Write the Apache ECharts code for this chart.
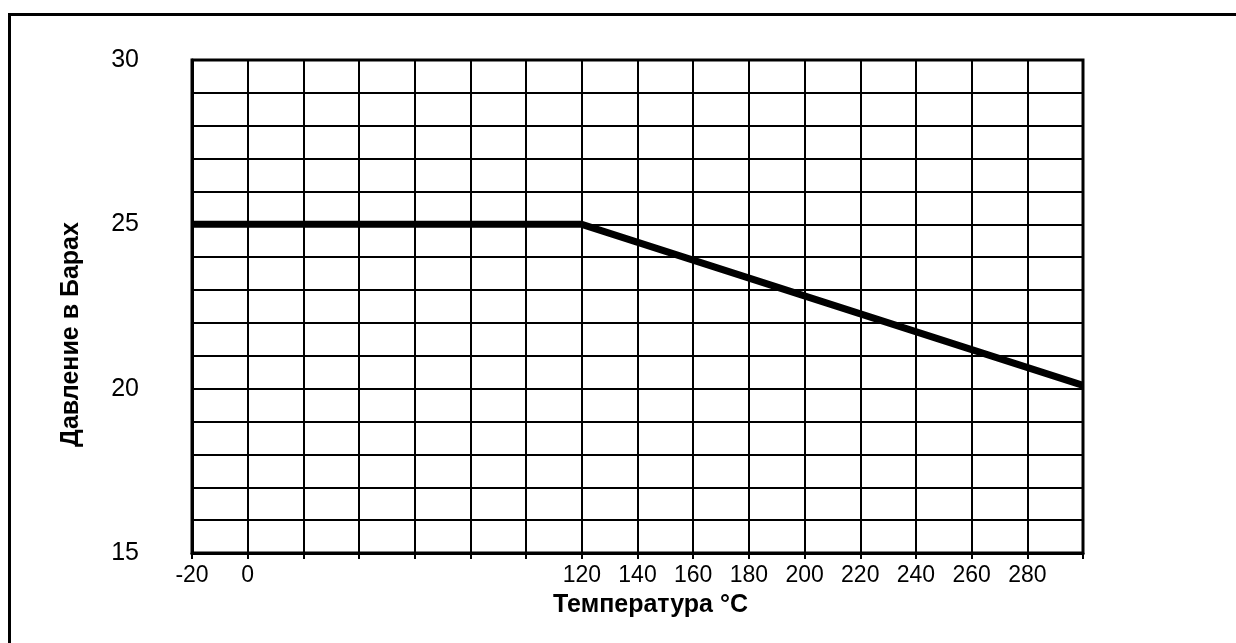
<!DOCTYPE html>
<html>
<head>
<meta charset="utf-8">
<script src="https://cdn.jsdelivr.net/npm/echarts@6/dist/echarts.min.js"></script>
<style>
html,body{margin:0;padding:0;background:#fff;}
#chart{width:1236px;height:643px;}
</style>
</head>
<body>
<div id="chart"></div>
<script>
// Data
const temperatures = [-20, 120, 300];
const pressures = [25, 25, 20.1];
const xTickLabels = [-20, 0, 120, 140, 160, 180, 200, 220, 240, 260, 280];
const yTickLabels = [15, 20, 25, 30];
const xTitle = 'Температура °C';
const yTitle = 'Давление в Барах';

const FONT = '"Liberation Sans", Arial, sans-serif';
const chart = echarts.init(document.getElementById('chart'), null, {renderer: 'canvas'});

chart.setOption({
  backgroundColor: '#fff',
  animation: false,
  graphic: [{
    type: 'polyline',
    shape: {points: [[9.5, 643], [9.5, 14.5], [1236, 14.5]]},
    style: {stroke: '#000', lineWidth: 3, fill: null}
  }],
  grid: {
    left: 192, top: 60, right: 153, bottom: 90,
    show: true, borderColor: '#000', borderWidth: 3
  },
  xAxis: {
    type: 'value',
    min: -20, max: 300, interval: 20,
    name: xTitle,
    nameLocation: 'middle',
    nameGap: 40,
    nameTextStyle: {fontFamily: FONT, fontSize: 25, fontWeight: 'bold', color: '#000', padding: [0, 0, 0, 26]},
    axisLine: {show: true, onZero: false, lineStyle: {color: '#000', width: 3}},
    axisTick: {show: true, length: 6, lineStyle: {color: '#000', width: 2}},
    axisLabel: {
      fontFamily: FONT, fontSize: 23, color: '#000', margin: 11,
      formatter: v => xTickLabels.includes(v) ? String(v) : ''
    },
    splitLine: {show: true, lineStyle: {color: '#000', width: 2}}
  },
  yAxis: {
    type: 'value',
    min: 15, max: 30, interval: 1,
    name: yTitle,
    nameLocation: 'middle',
    nameGap: 108,
    nameRotate: 90,
    nameTextStyle: {fontFamily: FONT, fontSize: 25, fontWeight: 'bold', color: '#000', padding: [0, 56, 0, 0]},
    axisLine: {show: true, onZero: false, lineStyle: {color: '#000', width: 3}},
    axisTick: {show: false},
    axisLabel: {
      fontFamily: FONT, fontSize: 25, color: '#000', margin: 53,
      formatter: v => yTickLabels.includes(v) ? String(v) : ''
    },
    splitLine: {show: true, lineStyle: {color: '#000', width: 2}}
  },
  series: [{
    type: 'line',
    data: temperatures.map((t, i) => [t, pressures[i]]),
    showSymbol: false,
    lineStyle: {color: '#000', width: 7},
    z: 5
  }]
});
</script>
</body>
</html>
